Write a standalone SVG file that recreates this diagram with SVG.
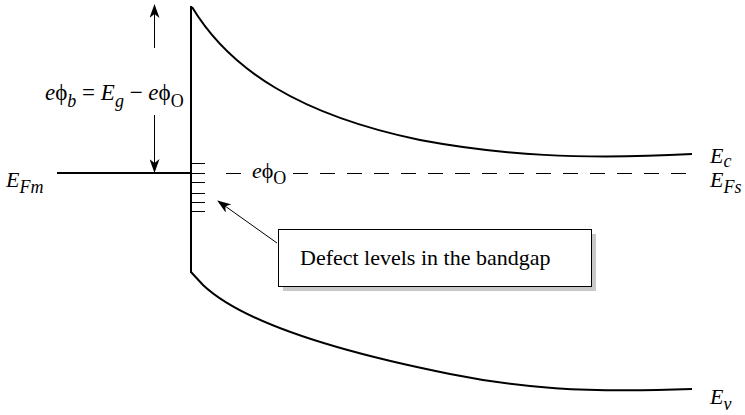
<svg xmlns="http://www.w3.org/2000/svg" width="745" height="415" viewBox="0 0 745 415">
<style>
.ln{fill:none;stroke:#000;stroke-width:2}
.thin{fill:none;stroke:#000;stroke-width:1}
.t{font-family:"Liberation Serif",serif;font-size:22px;fill:#000}
.i{font-style:italic}
.s{font-size:18px}
</style>
<defs>
<marker id="ah" markerWidth="14" markerHeight="10" refX="13" refY="5" orient="auto" markerUnits="userSpaceOnUse">
<path d="M0,0 L14,5 L0,10 L4,5 Z" fill="#000"/>
</marker>
</defs>
<rect width="745" height="415" fill="#fff"/>
<g id="bands">
<line class="ln" x1="191" y1="6" x2="191" y2="273"/>
<line class="ln" x1="57" y1="173" x2="191" y2="173"/>
<path class="ln" d="M192,7 C230,70 300,115 420,140 C500,155 580,160 692,154"/>
<path class="ln" d="M191,272 L203,285 C240,320 330,350 450,374 C520,388 580,393 692,389"/>
<path class="thin" stroke-dasharray="15,12" d="M226,173.5 H242 M293,173.5 H690"/>
<path class="thin" d="M192,163.5 H205 M192,173.5 H205 M192,182.5 H205 M192,193.5 H205 M192,202.5 H205 M192,211.5 H205"/>
</g>
<g id="barrier">
<line class="thin" x1="154.5" y1="48" x2="154.5" y2="5" marker-end="url(#ah)"/>
<line class="thin" x1="154.5" y1="115" x2="154.5" y2="172" marker-end="url(#ah)"/>
<text class="t" x="45" y="100" style="font-size:23px"><tspan class="i">e</tspan>ϕ<tspan class="i s" dy="7">b</tspan><tspan dy="-7"> = </tspan><tspan class="i">E</tspan><tspan class="i s" dy="7">g</tspan><tspan dy="-7"> − </tspan><tspan class="i">e</tspan>ϕ<tspan class="s" dy="7">O</tspan></text>
</g>
<g id="labels">
<text class="t" x="6" y="187"><tspan class="i">E</tspan><tspan class="i s" dy="6">Fm</tspan></text>
<text class="t" x="252" y="178"><tspan class="i">e</tspan>ϕ<tspan class="s" dy="6">O</tspan></text>
<text class="t" x="710" y="163"><tspan class="i">E</tspan><tspan class="i s" dy="4">c</tspan></text>
<text class="t" x="710" y="187"><tspan class="i">E</tspan><tspan class="i s" dy="6">Fs</tspan></text>
<text class="t" x="710" y="404"><tspan class="i">E</tspan><tspan class="i s" dy="6">v</tspan></text>
</g>
<g id="callout">
<rect x="283" y="234" width="313" height="57" fill="#c8c8c8"/>
<rect x="278.5" y="229.5" width="313" height="57" fill="#fff" stroke="#000" stroke-width="1"/>
<text class="t" x="300" y="265">Defect levels in the bandgap</text>
</g>
<g id="connectors">
<line class="thin" x1="277" y1="243" x2="218" y2="201" marker-end="url(#ah)"/>
</g>
</svg>
